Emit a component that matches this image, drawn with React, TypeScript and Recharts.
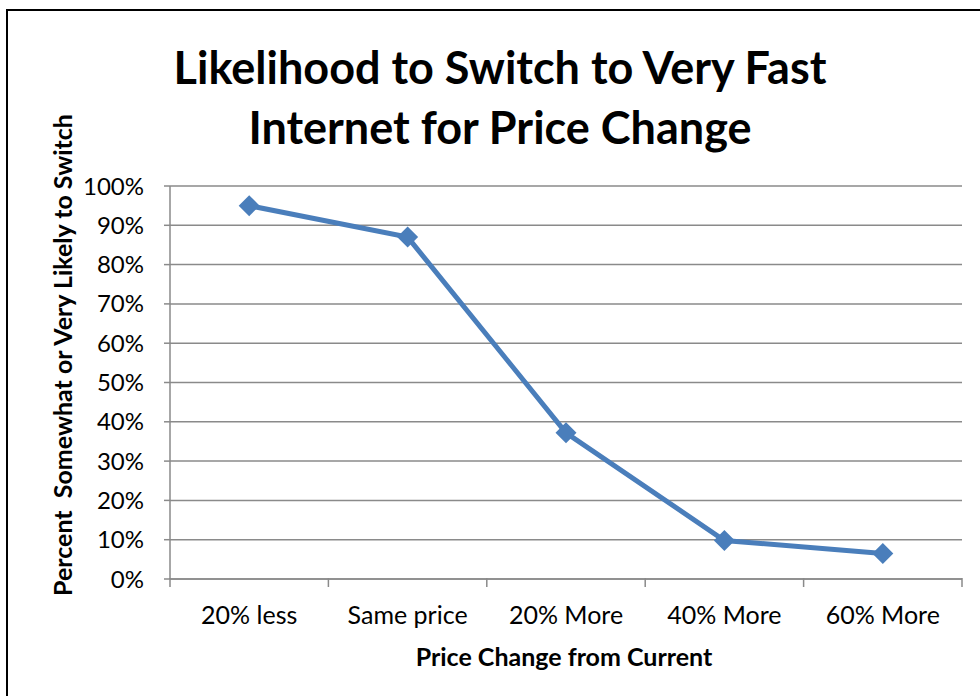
import React from 'react';
import { LineChart, Line, XAxis, YAxis, CartesianGrid } from 'recharts';

// price change categories on the x axis
const categories = ['20% less', 'Same price', '20% More', '40% More', '60% More'];
// share who are somewhat / very likely to switch
const switchShare = [0.95, 0.87, 0.372, 0.098, 0.065];
const yTicks = [0, 0.1, 0.2, 0.3, 0.4, 0.5, 0.6, 0.7, 0.8, 0.9, 1];
const labelTicks = [0, 1, 2, 3, 4];
const boundaryTicks = [-0.5, 0.5, 1.5, 2.5, 3.5, 4.5];

const chartTitle = ['Likelihood to Switch to Very Fast', 'Internet for Price Change'];
const xTitle = 'Price Change from Current';
const yTitle = 'Percent\u00a0\u00a0Somewhat or Very Likely to Switch';

const data = categories.map((name, idx) => ({ idx, name, value: switchShare[idx] }));

const FONT = 'Lato, "Open Sans", sans-serif';
const GRID = '#8a8a8a';
const BLUE = '#4a7ebb';

const Diamond = (props: any) => {
  const { cx, cy } = props;
  if (cx == null || cy == null) return null;
  const r = 10.5;
  return (
    <path
      d={`M${cx},${cy - r} L${cx + r},${cy} L${cx},${cy + r} L${cx - r},${cy} Z`}
      fill={BLUE}
      stroke="none"
    />
  );
};

// boundary axis: draw a short tick mark hanging below the axis, no text
const BoundaryTick = (props: any) => {
  const { x, y } = props;
  return <line x1={x} x2={x} y1={y - 1} y2={y + 8} stroke={GRID} strokeWidth={1.5} />;
};

export default function App() {
  return (
    <div
      style={{
        position: 'absolute',
        left: 0,
        top: 0,
        width: 980,
        height: 696,
        overflow: 'hidden',
        background: '#fff',
        fontFamily: FONT,
      }}
    >
      <div
        style={{
          position: 'absolute',
          left: 6,
          top: 9,
          width: 1000,
          height: 720,
          border: '2px solid #000',
        }}
      />
      <div
        style={{
          position: 'absolute',
          left: 0,
          top: 37,
          width: 1000,
          textAlign: 'center',
          fontWeight: 700,
          fontSize: 45,
          lineHeight: '60px',
          color: '#000',
        }}
      >
        {chartTitle.map((t) => (
          <div key={t}>{t}</div>
        ))}
      </div>
      <LineChart
        width={980}
        height={696}
        data={data}
        margin={{ top: 186, right: 18, bottom: 77, left: 70 }}
        style={{ position: 'absolute', left: 0, top: 0 }}
      >
        <CartesianGrid xAxisId="bounds" vertical={false} stroke={GRID} strokeWidth={1.5} />
        <XAxis
          xAxisId="bounds"
          type="number"
          dataKey="idx"
          domain={[-0.5, 4.5]}
          ticks={boundaryTicks}
          interval={0}
          tick={<BoundaryTick />}
          tickSize={0}
          tickMargin={0}
          tickLine={false}
          axisLine={{ stroke: GRID, strokeWidth: 1.5 }}
          height={1}
        />
        <XAxis
          xAxisId="labels"
          type="number"
          dataKey="idx"
          domain={[-0.5, 4.5]}
          ticks={labelTicks}
          interval={0}
          tickFormatter={(v: number) => categories[v]}
          tickLine={false}
          axisLine={false}
          tickMargin={20}
          tick={{ fill: '#000', fontSize: 25, fontFamily: FONT }}
          height={39}
        />
        <YAxis
          domain={[0, 1]}
          ticks={yTicks}
          tickFormatter={(v: number) => `${Math.round(v * 100)}%`}
          tickSize={6}
          tickMargin={20}
          tickLine={{ stroke: GRID, strokeWidth: 1.5 }}
          axisLine={{ stroke: GRID, strokeWidth: 1.5 }}
          tick={{ fill: '#000', fontSize: 24, fontFamily: FONT }}
          width={100}
        />
        <Line
          xAxisId="bounds"
          type="linear"
          dataKey="value"
          stroke={BLUE}
          strokeWidth={5}
          dot={<Diamond />}
          activeDot={false}
          isAnimationActive={false}
        />
      </LineChart>
      <div
        style={{
          position: 'absolute',
          left: 364,
          width: 400,
          top: 641,
          textAlign: 'center',
          fontWeight: 700,
          fontSize: 25,
          lineHeight: '30px',
          color: '#000',
        }}
      >
        {xTitle}
      </div>
      <div
        style={{
          position: 'absolute',
          left: 62 - 300,
          width: 600,
          top: 355 - 15,
          textAlign: 'center',
          fontWeight: 700,
          fontSize: 25,
          lineHeight: '30px',
          color: '#000',
          transform: 'rotate(-90deg)',
          whiteSpace: 'nowrap',
        }}
      >
        {yTitle}
      </div>
    </div>
  );
}
